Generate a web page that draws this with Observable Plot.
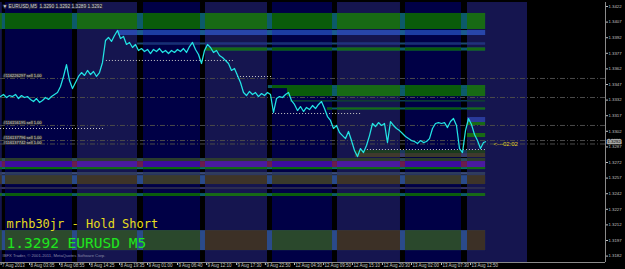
<!DOCTYPE html>
<html><head><meta charset="utf-8">
<script src="https://cdn.jsdelivr.net/npm/d3@7"></script>
<script src="https://cdn.jsdelivr.net/npm/@observablehq/plot@0.6"></script>
<style>html,body{margin:0;padding:0;background:#000;overflow:hidden}</style>
</head><body><div id="chart"></div>
<script>
// EURUSD M5 closes, one sample per time slot (slot index = x)
const closes = [
  1.33354,1.33374,1.33345,1.33364,1.33354,1.33374,1.33335,1.33364,1.33345,1.33354,
  1.33326,1.33306,1.33335,1.33297,1.33316,1.33345,1.33326,1.33354,1.33374,1.33393,
  1.33451,1.33547,1.33662,1.33508,1.33431,1.33489,1.33547,1.33585,1.33557,1.33605,
  1.33566,1.33595,1.33547,1.33585,1.33682,1.33893,1.33922,1.33884,1.33941,1.33989,
  1.33912,1.33932,1.33855,1.33874,1.33826,1.33855,1.33797,1.33816,1.33787,1.33807,
  1.33768,1.33807,1.33787,1.33816,1.33778,1.33797,1.33768,1.33797,1.33778,1.33807,
  1.33787,1.33816,1.33778,1.33835,1.33874,1.33807,1.33759,1.33672,1.33797,1.33855,
  1.33826,1.33778,1.33797,1.33749,1.33730,1.33701,1.33672,1.33605,1.33624,1.33557,
  1.33489,1.33393,1.33364,1.33403,1.33374,1.33393,1.33354,1.33383,1.33364,1.33393,
  1.33374,1.33201,1.33335,1.33354,1.33345,1.33374,1.33393,1.33316,1.33278,1.33220,
  1.33258,1.33210,1.33249,1.33229,1.33268,1.33239,1.33278,1.33306,1.33239,1.33162,
  1.33124,1.33047,1.33076,1.33008,1.32979,1.32950,1.33018,1.32931,1.32835,1.32777,
  1.32854,1.32816,1.32883,1.32979,1.33095,1.33066,1.33104,1.33076,1.33095,1.32912,
  1.33114,1.33076,1.33047,1.33027,1.32999,1.32970,1.32950,1.32931,1.32922,1.32902,
  1.32931,1.32912,1.32922,1.32950,1.33047,1.33095,1.33104,1.33095,1.33104,1.33056,
  1.33114,1.33143,1.33076,1.32854,1.32816,1.33027,1.33143,1.33085,1.32989,1.32931,
  1.32854,1.32912
];
const lastBar = {s: 161.67, p: 1.3292};
const bid = 1.3292;
const xDomain = [0, 201.67];
const yDomain = [1.317585, 1.342585];

const priceTicks = [1.3422,1.3407,1.3392,1.3377,1.3362,1.3347,1.3332,1.3317,1.3302,1.3287,1.3272,1.3257,1.3242,1.3227,1.3212,1.3197,1.3182];
const timeTickPos = [0.2,9.7,19.7,29.7,39.7,49,59,68.7,78.7,88.3,98,107.7,117.3,127.3,137,147,156.7];
const timeTickLabels = ["7 Aug 2013","8 Aug 03:05","8 Aug 08:55","8 Aug 14:25","8 Aug 19:35","9 Aug 01:00","9 Aug 06:40","9 Aug 12:10","9 Aug 17:30","9 Aug 22:50","12 Aug 04:30","12 Aug 09:50","12 Aug 15:10","12 Aug 20:30","13 Aug 02:00","13 Aug 07:30","13 Aug 12:50"];

// session columns
const columns = [
  {x1:0, x2:0.6, type:"light"},
  {x1:1.67, x2:24, type:"dark"},
  {x1:25.67, x2:45.67, type:"light"},
  {x1:47.67, x2:66.67, type:"dark"},
  {x1:68.33, x2:89, type:"light"},
  {x1:90.67, x2:110.67, type:"dark"},
  {x1:112.33, x2:133.33, type:"light"},
  {x1:135, x2:153.67, type:"dark"},
  {x1:155.67, x2:175.67, type:"light"}
];
const colFill = {dark: "#000046", light: "#15154f"};

const G = {dark:"#0a5c0a", light:"#186a14", gap:"#0c5a6a"};
// supply / demand zones
const zones = [
  {y1:1.34153, y2:1.33999, x1:0, x2:161.7, ...G},
  {y1:1.33989, y2:1.33941, x1:39.3, x2:161.7, dark:"#1c3ca2", light:"#2846aa", gap:"#1a5a90"},
  {y1:1.33869, y2:1.33850, x1:45.7, x2:161.7, dark:"#182c78", light:"#222f7e", gap:"#1a4a70"},
  {y1:1.33821, y2:1.33792, x1:68.3, x2:161.7, ...G},
  {y1:1.33460, y2:1.33431, x1:89.3, x2:161.7, ...G},
  {y1:1.33431, y2:1.33354, x1:95.7, x2:161.7, ...G},
  {y1:1.33316, y2:1.33302, x1:96.7, x2:161.7, dark:"#0a3c30", light:"#123c30", gap:"#0a3c5c"},
  {y1:1.33244, y2:1.33225, x1:109, x2:161.7, ...G},
  {y1:1.33152, y2:1.33104, x1:155.7, x2:161.7, dark:"#2a3a9a", light:"#2a3a9a", gap:"#2a3a9a"},
  {y1:1.33104, y2:1.33076, x1:155.7, x2:161.7, ...G},
  {y1:1.32999, y2:1.32960, x1:155.7, x2:161.7, ...G},
  {y1:1.32835, y2:1.32806, x1:118.3, x2:161.7, dark:"#183a1c", light:"#1e3c22", gap:"#183a5c"},
  {y1:1.32806, y2:1.32768, x1:118.3, x2:161.7, dark:"#3a3a2a", light:"#403a2c", gap:"#3a3a6a"},
  {y1:1.32758, y2:1.32729, x1:0, x2:161.7, dark:"#2a3c2c", light:"#2e3c2e", gap:"#2a4a5c"},
  {y1:1.32729, y2:1.32671, x1:0, x2:161.7, dark:"#3c0ca0", light:"#4a1aa0", gap:"#6a1c4c"},
  {y1:1.32671, y2:1.32652, x1:0, x2:161.7, dark:"#0a6a0a", light:"#146a12", gap:"#0a6a6a"},
  {y1:1.32623, y2:1.32599, x1:0, x2:161.7, dark:"#2c3c5c", light:"#303c5c", gap:"#3a4a7a"},
  {y1:1.32594, y2:1.32508, x1:0, x2:161.7, dark:"#3a3a2c", light:"#3e3428", gap:"#2a4a8a"},
  {y1:1.32479, y2:1.32460, x1:0, x2:161.7, dark:"#26264c", light:"#2c2c50", gap:"#303068"},
  {y1:1.32421, y2:1.32393, x1:0, x2:161.7, ...G},
  {y1:1.32065, y2:1.31873, x1:0, x2:161.7, dark:"#2a482c", light:"#3c3026", gap:"#2a4a8a", first:"#2c4a2c"}
];

// open sell orders
const orderPrices = [1.33528, 1.33345, 1.33076, 1.32931, 1.32898];
const orderLabels = ["#116226297 sell 1.00", "", "#116156195 sell 1.00", "#116137796 sell 1.00", "#116137742 sell 1.00"];
const labelLift = [0.00023, 0.00023, 0.00023, 0.0003, 0.0001];
const orders = orderPrices.map((price, i) => ({price, label: orderLabels[i], lift: labelLift[i]}));
// short dotted levels
const dotted = [
  {s1:35.3, s2:78.3, p:1.33701},
  {s1:79, s2:90.7, p:1.33547},
  {s1:90.7, s2:120.7, p:1.33191},
  {s1:0, s2:34.3, p:1.33047},
  {s1:122.3, s2:161.7, p:1.32845}
];
const countdown = {s:164.3, p:1.3290, label:"<---02:02"};
const header = "\u25BC EURUSD,M5  1.3290 1.3292 1.3289 1.3292";
const copyright = "IBFX Trader, \u00A9 2001-2011, MetaQuotes Software Corp.";
const titleLine = "mrhb30jr - Hold Short";
const priceLine = "1.3292 EURUSD M5";

const segs = [];
for (const z of zones) columns.forEach((c, ci) => {
  const lo = Math.max(z.x1, c.x1), hi = Math.min(z.x2, c.x2);
  const fill = (z.first && ci <= 2) ? z.first : z[c.type];
  if (lo < hi) segs.push({x1: lo, x2: hi, y1: z.y1, y2: z.y2, fill});
});
const line = closes.map((p, i) => ({s: i, p})).concat([lastBar]);
const fmt = d3.format(".4f");

const chart = Plot.plot({
  width: 625, height: 269,
  marginLeft: 0, marginRight: 20, marginTop: 2, marginBottom: 7,
  style: {background: "#000", color: "#c0c0c0", fontFamily: "'Liberation Sans', Arial, sans-serif", fontSize: "4.3px"},
  x: {domain: xDomain, axis: "bottom", ticks: timeTickPos, tickFormat: () => "", tickSize: 3, label: null},
  y: {domain: yDomain, axis: "right", ticks: priceTicks, tickFormat: fmt, tickSize: 2, tickPadding: 1, label: null},
  color: {type: "identity"},
  marks: [
    Plot.rect(columns, {x1: "x1", x2: "x2", y1: () => yDomain[0], y2: () => yDomain[1], fill: d => colFill[d.type]}),
    Plot.rect(zones, {x1: "x1", x2: "x2", y1: "y1", y2: "y2", fill: "gap"}),
    Plot.rect(segs, {x1: "x1", x2: "x2", y1: "y1", y2: "y2", fill: "fill"}),
    Plot.ruleY(orders, {y: "price", stroke: "#4a4a4a", strokeDasharray: "5,2,1,2"}),
    Plot.text(orders.filter(o => o.label), {y: d => d.price + d.lift, text: "label", frameAnchor: "left", dx: 3, textAnchor: "start", fill: "#d8d8d8", stroke: "#2c2c34", strokeWidth: 1.6, paintOrder: "stroke", fontSize: 4}),
    Plot.ruleY(dotted, {y: "p", x1: "s1", x2: "s2", stroke: "#c8c8c8", strokeDasharray: "1,2"}),
    Plot.line(line, {x: "s", y: "p", stroke: "#22e4e4", strokeWidth: 1.25}),
    Plot.ruleY([yDomain[0]], {stroke: "#8a8a8a"}),
    Plot.ruleX([xDomain[1]], {stroke: "#8a8a8a"}),
    Plot.text(timeTickPos, {x: d => d, text: (d, i) => timeTickLabels[i], frameAnchor: "bottom", dy: 4.3, dx: 1, textAnchor: "start", fill: "#c8c8c8", fontSize: 4.5}),
    Plot.text([bid], {y: d => d, text: d => fmt(d), frameAnchor: "right", dx: 2, textAnchor: "start", fill: "#000", stroke: "#a8a8a8", strokeWidth: 2.5, paintOrder: "stroke", fontSize: 4.3}),
    Plot.text([countdown], {x: "s", y: "p", text: "label", textAnchor: "start", fill: "#e0d21e", fontSize: 6}),
    Plot.text([header], {frameAnchor: "top-left", dx: 2, dy: 2, textAnchor: "start", text: d => d, fill: "#d0d0d0", stroke: "#20203a", strokeWidth: 2, paintOrder: "stroke", fontSize: 4.8}),
    Plot.text([copyright], {frameAnchor: "bottom-left", dx: 2, dy: -6, textAnchor: "start", text: d => d, fill: "#8888a8", fontSize: 4.2}),
    Plot.text([titleLine], {frameAnchor: "bottom-left", dx: 6, dy: -34.5, textAnchor: "start", text: d => d, fill: "#e6dc1e", fontSize: 12, fontFamily: "'DejaVu Sans Mono', monospace"}),
    Plot.text([priceLine], {frameAnchor: "bottom-left", dx: 6, dy: -14.5, textAnchor: "start", text: d => d, fill: "#1ee61e", fontSize: 14.5, fontFamily: "'DejaVu Sans Mono', monospace"})
  ]
});
document.getElementById("chart").appendChild(chart);
</script>
</body></html>
